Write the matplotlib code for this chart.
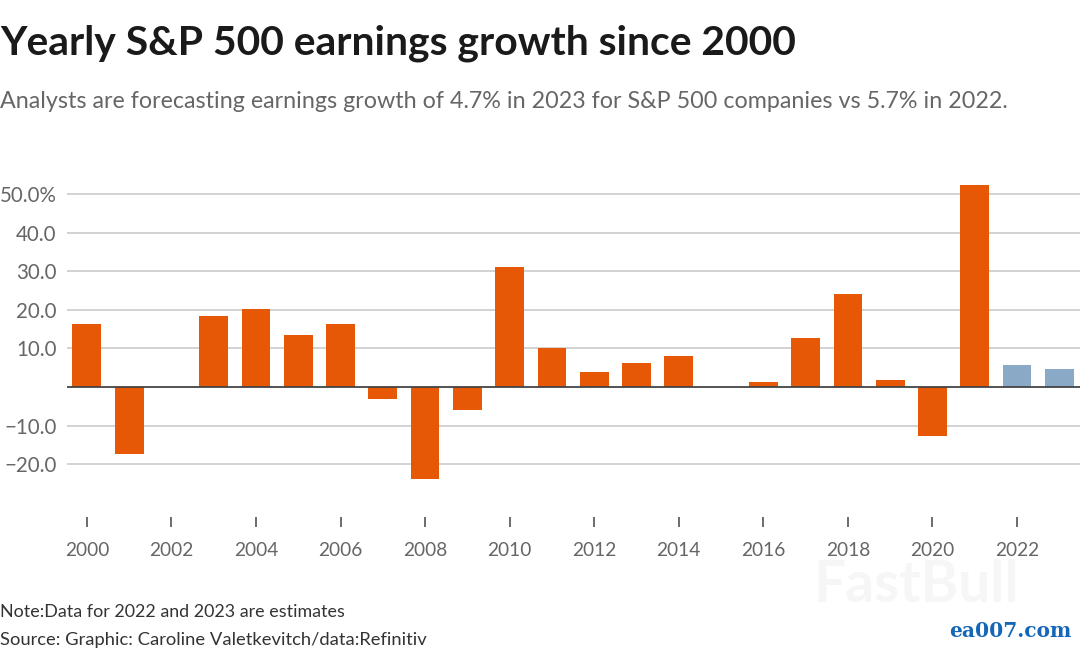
import matplotlib
matplotlib.use("Agg")
import matplotlib.pyplot as plt

years = list(range(2000, 2024))
growth = [16.2, -17.3, 0, 18.3, 20.2, 13.6, 16.2, -3.2, -23.8, -6.0, 31.0, 10.0,
          4.0, 6.2, 8.0, 0, 1.2, 12.7, 24.0, 1.8, -12.8, 52.3, 5.7, 4.7]
estimate_years = [2022, 2023]
x_ticks = list(range(2000, 2024, 2))
y_ticks = [-20, -10, 10, 20, 30, 40, 50]
y_labels = ["\u221220.0", "\u221210.0", "10.0", "20.0", "30.0", "40.0", "50.0%"]
title = "Yearly S&P 500 earnings growth since 2000"
subtitle = "Analysts are forecasting earnings growth of 4.7% in 2023 for S&P 500 companies vs 5.7% in 2022."
note = "Note:Data for 2022 and 2023 are estimates"
source = "Source: Graphic: Caroline Valetkevitch/data:Refinitiv"

W, H = 1080, 654
plt.rcParams["font.family"] = ["Lato", "DejaVu Sans"]
fig = plt.figure(figsize=(W / 100, H / 100), dpi=100)
L, R, T, B = 67, 1080, 180, 517
ax = fig.add_axes([L / W, 1 - B / H, (R - L) / W, (B - T) / H])
ax.set_xlim(1999.53, 2023.49)
ax.set_ylim((387 - B) / 3.86, (387 - T) / 3.86)

colors = ["#8aa9c6" if y in estimate_years else "#e65706" for y in years]
ax.bar(years, growth, width=0.68, color=colors, zorder=3)
ax.axhline(0, color="#444444", lw=1.3, zorder=4)

for s in ax.spines.values():
    s.set_visible(False)
ax.set_yticks(y_ticks, y_labels)
ax.set_xticks(x_ticks, [str(v) for v in x_ticks])
ax.grid(axis="y", color="#cfcfcf", lw=1.3, zorder=0)
ax.set_axisbelow(True)
ax.tick_params(axis="y", length=0, pad=7.5, labelsize=14.8, labelcolor="#666666")
ax.tick_params(axis="x", length=7.5, width=1.1, color="#444444", pad=10.5,
               labelsize=13.8, labelcolor="#666666")

fig.text(0, 1 - 43 / H, title, fontsize=29.4, fontweight="bold", color="#1a1a1a", va="center", ha="left")
fig.text(0, 1 - 102 / H, subtitle, fontsize=16.75, color="#666666", va="center", ha="left")
fig.text(0, 1 - 612 / H, note, fontsize=12.85, color="#333333", va="center", ha="left")
fig.text(0, 1 - 640 / H, source, fontsize=13.2, color="#333333", va="center", ha="left")
fig.text(916 / W, 1 - 586 / H, "FastBull", fontsize=41, fontweight="bold", color="#f6f6f6", va="center", ha="center")
fig.text(1010 / W, 1 - 631 / H, "ea007.com", fontsize=14.5, fontweight="bold", family="DejaVu Serif",
         color="#1466b8", va="center", ha="center")

fig.savefig("out.png", dpi=100)
